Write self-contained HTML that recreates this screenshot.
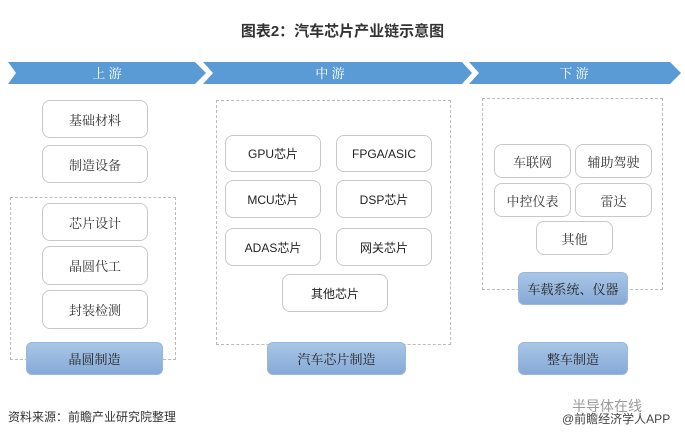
<!DOCTYPE html>
<html><head><meta charset="utf-8"><style>
body{margin:0;width:685px;height:442px;background:#fff;position:relative;overflow:hidden;font-family:"Liberation Sans","Noto Sans CJK SC",sans-serif;}
.a{position:absolute;box-sizing:border-box;display:flex;align-items:center;justify-content:center;}
.w{border:1px solid #c8c8c8;border-radius:8px;background:#fff;font-size:13px;color:#333;font-family:"Noto Serif CJK SC","Liberation Serif",serif;}
.m{font-family:"Liberation Sans","Noto Sans CJK SC",sans-serif;font-size:12px;color:#222;}
.b{border-radius:6px;background:linear-gradient(#a9c6e6,#86a9d6);font-size:13px;color:#222;border:1px solid #9bb7db;font-family:"Noto Serif CJK SC",serif;}
.d{position:absolute;box-sizing:border-box;border:1px dashed #bbb;}
</style></head><body>
<div class="a" style="left:0;top:18px;width:685px;height:24px;font-size:15px;font-weight:bold;color:#333;">图表2：汽车芯片产业链示意图</div>
<svg style="position:absolute;left:0;top:0" width="685" height="100">
<polygon points="8,62 195,62 206,73 195,84 8,84 16,73" fill="#5b9bd5"/>
<polygon points="203,62 462,62 472,73 462,84 203,84 213,73" fill="#5b9bd5"/>
<polygon points="469,62 670,62 681,73 670,84 469,84 479,73" fill="#5b9bd5"/>
<text x="107" y="78" fill="#fff" font-size="13" text-anchor="middle" font-family="Noto Serif CJK SC,serif">上 游</text>
<text x="330" y="78" fill="#fff" font-size="13" text-anchor="middle" font-family="Noto Serif CJK SC,serif">中 游</text>
<text x="574" y="78" fill="#fff" font-size="13" text-anchor="middle" font-family="Noto Serif CJK SC,serif">下 游</text>
</svg>
<div class="d" style="left:10px;top:197px;width:166px;height:163px"></div>
<div class="d" style="left:216px;top:100px;width:235px;height:245px"></div>
<div class="d" style="left:482px;top:98px;width:181px;height:192px"></div>
<div class="a w" style="left:42px;top:100px;width:106px;height:38px">基础材料</div>
<div class="a w" style="left:42px;top:145px;width:106px;height:38px">制造设备</div>
<div class="a w" style="left:42px;top:203px;width:106px;height:38px">芯片设计</div>
<div class="a w" style="left:42px;top:246px;width:106px;height:39px">晶圆代工</div>
<div class="a w" style="left:42px;top:290px;width:106px;height:39px">封装检测</div>
<div class="a b" style="left:26px;top:342px;width:137px;height:33px">晶圆制造</div>
<div class="a w m" style="left:225px;top:135px;width:96px;height:37px">GPU芯片</div>
<div class="a w m" style="left:336px;top:135px;width:96px;height:37px">FPGA/ASIC</div>
<div class="a w m" style="left:225px;top:180px;width:96px;height:38px">MCU芯片</div>
<div class="a w m" style="left:336px;top:180px;width:96px;height:38px">DSP芯片</div>
<div class="a w m" style="left:225px;top:228px;width:96px;height:38px">ADAS芯片</div>
<div class="a w m" style="left:336px;top:228px;width:96px;height:38px">网关芯片</div>
<div class="a w m" style="left:282px;top:274px;width:106px;height:38px">其他芯片</div>
<div class="a b" style="left:267px;top:342px;width:139px;height:33px">汽车芯片制造</div>
<div class="a w" style="left:494px;top:144px;width:77px;height:34px">车联网</div>
<div class="a w" style="left:575px;top:144px;width:77px;height:34px">辅助驾驶</div>
<div class="a w" style="left:494px;top:183px;width:77px;height:34px">中控仪表</div>
<div class="a w" style="left:575px;top:183px;width:77px;height:34px">雷达</div>
<div class="a w" style="left:536px;top:221px;width:77px;height:34px">其他</div>
<div class="a b" style="left:518px;top:272px;width:110px;height:33px">车载系统、仪器</div>
<div class="a b" style="left:518px;top:342px;width:110px;height:33px">整车制造</div>
<div style="position:absolute;left:8px;top:408px;font-size:12px;color:#333;">资料来源：前瞻产业研究院整理</div>
<div style="position:absolute;left:572px;top:396px;font-size:14px;color:#999;">半导体在线</div>
<div style="position:absolute;left:562px;top:410px;font-size:12px;color:#444;">@前瞻经济学人APP</div>
</body></html>
